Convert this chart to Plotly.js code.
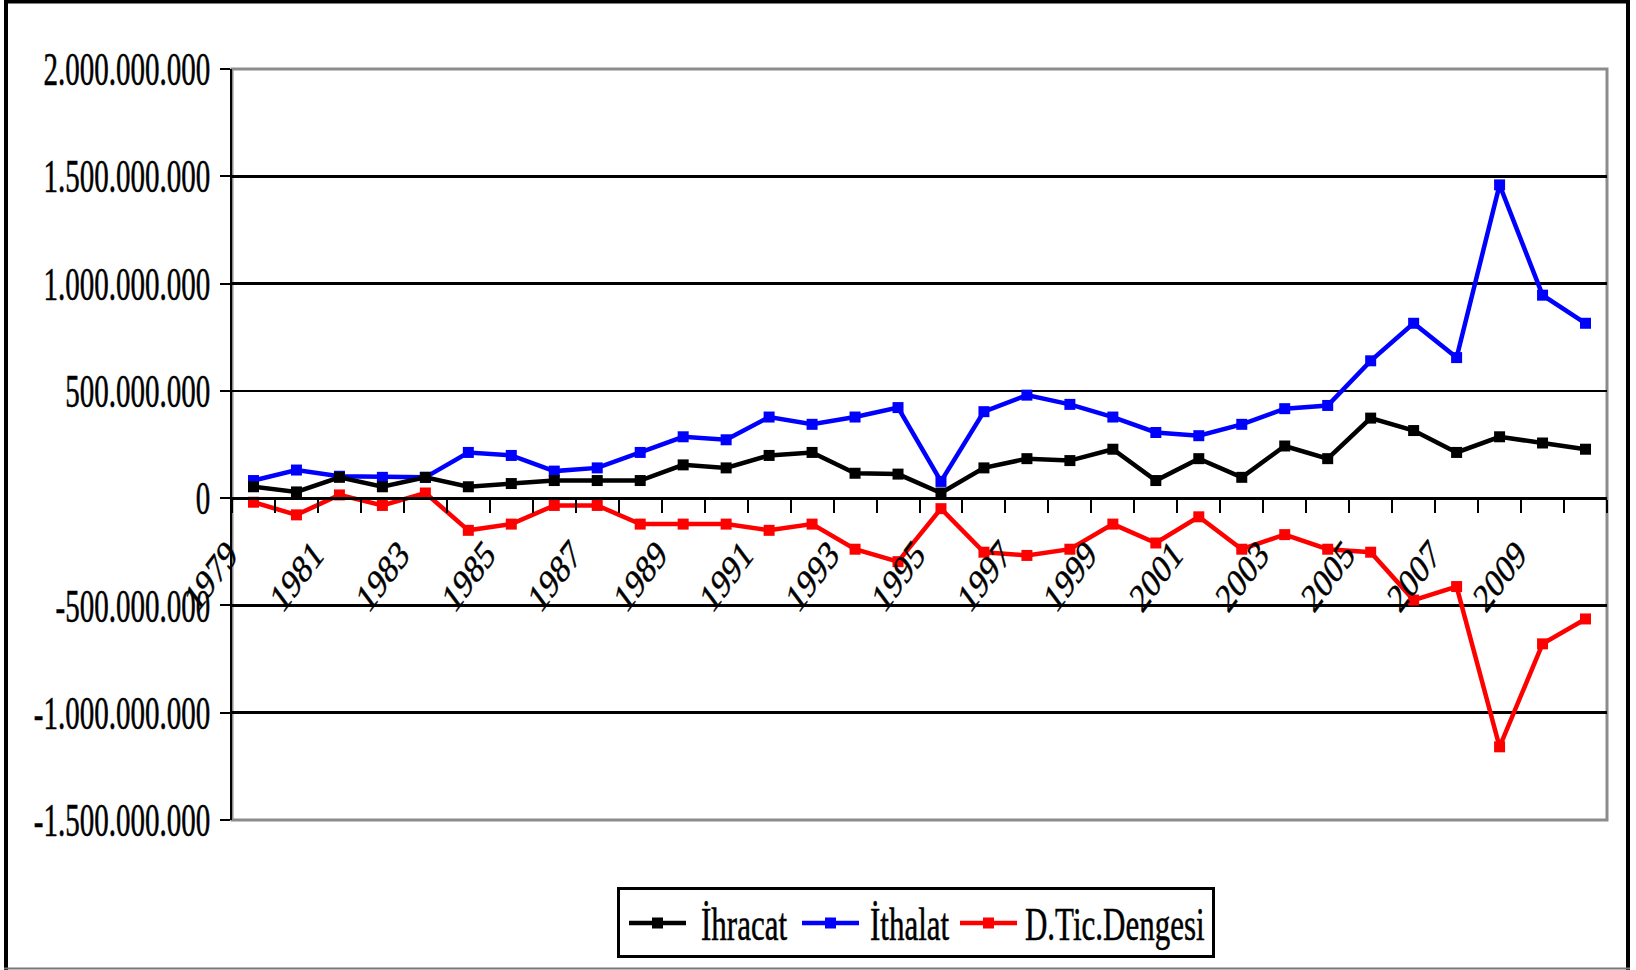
<!DOCTYPE html>
<html>
<head>
<meta charset="utf-8">
<script src="https://cdn.plot.ly/plotly-3.0.1.min.js"></script>
<style>
html,body{margin:0;padding:0;background:#fff;}
#chart{width:1636px;height:970px;}
#chart .ytick text, #chart .xtick text, #chart .legendtext {stroke:#000; stroke-width:0.35px;}
</style>
</head>
<body>
<div id="chart"></div>
<script>
const years = [1979,1980,1981,1982,1983,1984,1985,1986,1987,1988,1989,1990,1991,1992,1993,1994,1995,1996,1997,1998,1999,2000,2001,2002,2003,2004,2005,2006,2007,2008,2009,2010];
const ihracat = [53e6,29e6,97e6,53e6,97e6,53e6,68e6,82e6,82e6,82e6,155e6,141e6,199e6,213e6,116e6,112e6,24e6,141e6,184e6,175e6,228e6,82e6,184e6,97e6,243e6,184e6,373e6,315e6,213e6,286e6,257e6,228e6];
const ithalat = [82e6,131e6,102e6,97e6,97e6,213e6,199e6,126e6,141e6,213e6,286e6,272e6,378e6,344e6,378e6,422e6,78e6,403e6,480e6,437e6,378e6,306e6,291e6,344e6,417e6,432e6,640e6,815e6,655e6,1460e6,946e6,815e6];
const dengesi = [-19e6,-78e6,15e6,-34e6,24e6,-150e6,-121e6,-34e6,-34e6,-121e6,-121e6,-121e6,-150e6,-121e6,-238e6,-296e6,-49e6,-252e6,-267e6,-238e6,-121e6,-209e6,-87e6,-238e6,-170e6,-238e6,-252e6,-475e6,-412e6,-1159e6,-679e6,-563e6];
const xTickVals = [1979,1981,1983,1985,1987,1989,1991,1993,1995,1997,1999,2001,2003,2005,2007,2009];
const xTickText = ["1979","1981","1983","1985","1987","1989","1991","1993","1995","1997","1999","2001","2003","2005","2007","2009"];
const yTickVals = [-1.5e9,-1e9,-0.5e9,0,0.5e9,1e9,1.5e9,2e9];
const yTickText = ["-1.500.000.000","-1.000.000.000","-500.000.000","0","500.000.000","1.000.000.000","1.500.000.000","2.000.000.000"];
const seriesNames = ["İhracat","İthalat","D.Tic.Dengesi"];

const FONT = "Liberation Serif, Times New Roman, serif";

function tr(name, y, color, rank){
  return {x: years, y: y, name: name, type: 'scatter', mode: 'lines+markers',
    line: {color: color, width: 4.5}, marker: {symbol: 'square', size: 11, color: color},
    legendrank: rank, hoverinfo: 'skip'};
}
const data = [
  tr(seriesNames[2], dengesi, '#ff0000', 3),
  tr(seriesNames[1], ithalat, '#0000ff', 2),
  tr(seriesNames[0], ihracat, '#000000', 1)
];

const L=232, R=29, T=69, B=150, W=1636, H=970;
const pw = W-L-R, ph = H-T-B;
const px = v => (v-L)/pw;
const py = v => (H-B-v)/ph;

const layout = {
  width: W, height: H,
  margin: {l: L, r: R, t: T, b: B, pad: 0},
  paper_bgcolor: '#fff', plot_bgcolor: '#fff',
  font: {family: FONT, size: 28, color: '#000'},
  showlegend: true,
  legend: {orientation: 'h', xref: 'container', yref: 'container', x: 916/W, xanchor: 'center',
    y: 1-887/H, yanchor: 'top', bordercolor: '#000', borderwidth: 3, bgcolor: '#fff',
    font: {family: FONT, size: 31, color: '#000'}, traceorder: 'normal'},
  xaxis: {type: 'linear', range: [1978.5, 2010.5], anchor: 'free', position: 1.5/3.5,
    showline: true, linecolor: '#000', linewidth: 3, showgrid: false, zeroline: false,
    tickmode: 'array', tickvals: xTickVals, ticktext: xTickText, tickangle: -45, ticks: '',
    tickfont: {family: FONT, size: 30, color: '#000'},
    ticklabelstandoff: 30, ticklabelshift: -25,
    minor: {ticks: 'outside', ticklen: 13, tickwidth: 2, tickcolor: '#000', tick0: 1978.5, dtick: 1, showgrid: false},
    fixedrange: true},
  yaxis: {range: [-1.5e9, 2e9], tickmode: 'array', tickvals: yTickVals, ticktext: yTickText,
    showline: true, linecolor: '#000', linewidth: 2, ticks: 'outside', ticklen: 10, tickwidth: 2, tickcolor: '#000',
    showgrid: true, gridcolor: '#000', gridwidth: 2.5, zeroline: false,
    tickfont: {family: FONT, size: 29, color: '#000'}, ticklabelstandoff: 4, fixedrange: true},
  shapes: [
    {type: 'rect', xref: 'paper', yref: 'paper', x0: 0, x1: 1, y0: 0, y1: 1, line: {color: '#8c8c8c', width: 3}, layer: 'between'},
    {type: 'line', xref: 'paper', yref: 'paper', x0: px(6), x1: px(6), y0: py(0), y1: py(970), line: {color: '#000', width: 4}},
    {type: 'line', xref: 'paper', yref: 'paper', x0: px(1628), x1: px(1628), y0: py(0), y1: py(970), line: {color: '#000', width: 4}},
    {type: 'line', xref: 'paper', yref: 'paper', x0: px(4), x1: px(1630), y0: py(1.5), y1: py(1.5), line: {color: '#000', width: 4}},
    {type: 'line', xref: 'paper', yref: 'paper', x0: px(4), x1: px(1630), y0: py(968.5), y1: py(968.5), line: {color: '#777', width: 2}}
  ]
};

function stretch(sel, s){
  document.querySelectorAll(sel).forEach(t => {
    const bb = t.getBBox();
    const list = t.transform.baseVal;
    const c = list.numberOfItems ? list.consolidate() : null;
    const M = c ? c.matrix : null;
    const cx = bb.x + bb.width/2, cy = bb.y + bb.height/2;
    let X = cx, Y = cy;
    if (M) { X = M.a*cx + M.c*cy + M.e; Y = M.b*cx + M.d*cy + M.f; }
    const old = t.getAttribute('transform') || '';
    t.setAttribute('transform', `translate(${X},${Y}) scale(1,${s}) translate(${-X},${-Y}) ${old}`);
  });
}

function arrangeLegend(){
  const lg = document.querySelector('#chart g.legend');
  if (!lg) return;
  const offs = {}; offs[seriesNames[0]] = [12, 72]; offs[seriesNames[1]] = [185, 68]; offs[seriesNames[2]] = [343, 65];
  lg.setAttribute('transform', 'translate(617,887)');
  const bg = lg.querySelector('rect.bg');
  if (bg) { bg.setAttribute('x', 1.5); bg.setAttribute('y', 1.5); bg.setAttribute('width', 595); bg.setAttribute('height', 68); }
  const sb = lg.querySelector('g.scrollbox');
  if (sb) { sb.removeAttribute('clip-path'); sb.setAttribute('transform', ''); }
  lg.querySelectorAll('g.groups').forEach(g => g.setAttribute('transform', ''));
  lg.querySelectorAll('g.traces').forEach(tg => {
    const txt = tg.querySelector('text.legendtext');
    const o = offs[txt.textContent];
    if (!o) return;
    tg.setAttribute('transform', `translate(${o[0]},36)`);
    tg.querySelectorAll('g.legendlines path').forEach(p => p.setAttribute('d', 'M0,0h57'));
    tg.querySelectorAll('g.legendpoints path').forEach(p => p.setAttribute('transform', 'translate(28.5,0)'));
    txt.setAttribute('x', o[1]);
    txt.querySelectorAll('tspan').forEach(s => { if (s.getAttribute('x') !== null) s.setAttribute('x', o[1]); });
  });
}

Plotly.newPlot('chart', data, layout, {staticPlot: true, displayModeBar: false}).then(() => {
  arrangeLegend();
  stretch('#chart .ytick text', 1.6);
  stretch('#chart .xtick text', 1.35);
  stretch('#chart .legendtext', 1.5);
});
</script>
</body>
</html>
